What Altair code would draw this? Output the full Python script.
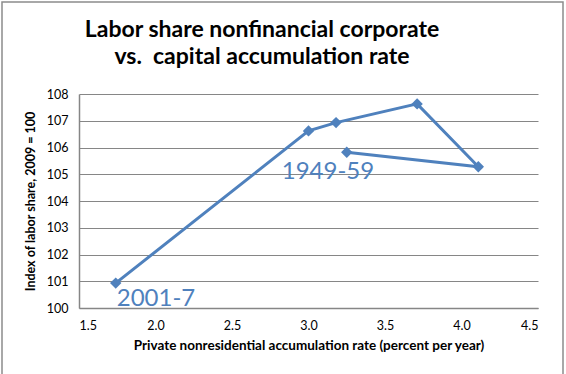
import altair as alt
import pandas as pd

# Connected scatter: capital accumulation rate vs. labor share index, by period
accum_rate = [3.25, 4.11, 3.71, 3.18, 3.00, 1.74]
labor_index = [105.82, 105.28, 107.63, 106.93, 106.62, 100.93]
order = [1, 2, 3, 4, 5, 6]
period = ["1949-59", "", "", "", "", "2001-7"]

df = pd.DataFrame({"rate": accum_rate, "index": labor_index, "order": order, "period": period})

BLUE = "#4F81BD"
GRID = "#868686"
FONT = "Lato"

W, H = 459, 214

x = alt.X("rate:Q", scale=alt.Scale(domain=[1.5, 4.5], nice=False),
          axis=alt.Axis(values=[1.5, 2.0, 2.5, 3.0, 3.5, 4.0, 4.5], format=".1f",
                        grid=False, ticks=False, domainColor=GRID, domainWidth=1.5,
                        labelFontSize=12.5, labelPadding=11, labelColor="#000000",
                        labelFont=FONT,
                        title="Private nonresidential accumulation rate (percent per year)",
                        titleFont=FONT, titleFontSize=13.5, titleFontWeight="bold",
                        titlePadding=7, titleColor="#000000"))
y = alt.Y("index:Q", scale=alt.Scale(domain=[100, 108], nice=False),
          axis=alt.Axis(values=list(range(100, 109)), grid=True, gridColor=GRID,
                        gridWidth=1, ticks=False, domainColor=GRID, domainWidth=1.5,
                        labelFontSize=12.5, labelPadding=11, labelColor="#000000",
                        labelFont=FONT,
                        title="Index of labor share, 2009 = 100",
                        titleFont=FONT, titleFontSize=12.5, titleFontWeight="bold",
                        titlePadding=9, titleColor="#000000"))

base = alt.Chart(df)

line = base.mark_line(color=BLUE, strokeWidth=3).encode(x=x, y=y, order="order:Q")
points = base.mark_point(shape="diamond", filled=True, opacity=1, color=BLUE, size=130).encode(x=x, y=y)

label_early = base.transform_filter(alt.datum.period == "1949-59").mark_text(
    align="left", baseline="alphabetic", dx=-65, dy=27, fontSize=24, font=FONT, color=BLUE
).encode(x=x, y=y, text="period:N")
label_late = base.transform_filter(alt.datum.period == "2001-7").mark_text(
    align="left", baseline="alphabetic", dx=1, dy=23, fontSize=24, font=FONT, color=BLUE
).encode(x=x, y=y, text="period:N")

# outer chart frame
frame = alt.Chart(pd.DataFrame({"k": [0]})).mark_rect(
    fill=None, stroke="#8c8c8c", strokeWidth=1.5
).encode(x=alt.value(-77), x2=alt.value(W + 25), y=alt.value(-92), y2=alt.value(H + 80))

title1 = alt.Chart(pd.DataFrame({"t": ["Labor share nonfinancial corporate"]})).mark_text(
    fontSize=23, fontWeight="bold", font=FONT, color="#000000", baseline="alphabetic"
).encode(text="t:N", x=alt.value(262 - 79), y=alt.value(37 - 94))
title2 = alt.Chart(pd.DataFrame({"t": ["vs.\u00a0 capital accumulation rate"]})).mark_text(
    fontSize=23, fontWeight="bold", font=FONT, color="#000000", baseline="alphabetic"
).encode(text="t:N", x=alt.value(262 - 79), y=alt.value(64 - 94))

chart = alt.layer(frame, line, points, label_early, label_late, title1, title2).properties(
    width=W, height=H,
    autosize=alt.AutoSizeParams(type="none"),
    padding={"left": 79, "top": 94, "right": 28, "bottom": 66},
    background="white",
).configure_view(stroke=None)

chart.save("out.html", embed_options={"renderer": "svg", "actions": False})
